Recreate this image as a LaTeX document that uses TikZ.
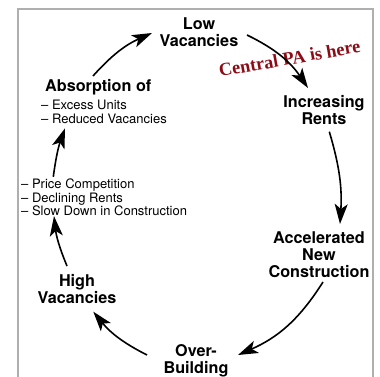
\documentclass[tikz,border=0pt]{standalone}
\usepackage{fontspec}
\setmainfont{TeX Gyre Heros}
\newfontfamily\redfont{Liberation Serif}
\usetikzlibrary{arrows.meta}
\definecolor{darkred}{RGB}{140,12,22}
\definecolor{framegray}{RGB}{175,175,175}
\begin{document}
\begin{tikzpicture}[x=1pt,y=-1pt,
  big/.style={font=\fontsize{16.2}{16.8}\selectfont\bfseries, align=center, inner sep=0pt},
  small/.style={font=\fontsize{13}{13.5}\selectfont, align=left, inner sep=0pt},
  cyc/.style={line width=1.6pt, -{Stealth[length=20pt,width=13pt,inset=5pt]}},
]
\useasboundingbox (0,0) rectangle (380,377);
\draw[framegray, line width=1.2pt] (18,377) -- (18,9) -- (373,9) -- (373,377);

\node[big] (lowv) at (199,31.9) {Low\\Vacancies};
\node[big] (incr) at (324,110) {Increasing\\Rents};
\node[big] (accel) at (319,254.9) {Accelerated\\New\\Construction};
\node[big] (over) at (196,360.6) {Over-\\Building};
\node[big] (high) at (77,288.7) {High\\Vacancies};
\node[big, anchor=base west] (absorb) at (45,92) {Absorption of};
\node[small, anchor=north west] (absorbl) at (41,100.3) {– Excess Units\\– Reduced Vacancies};
\node[small, anchor=north west] (leftl) at (21,178.6) {– Price Competition\\– Declining Rents\\– Slow Down in Construction};

\node[font=\redfont\fontsize{18.3}{18.3}\selectfont\bfseries, text=darkred, inner sep=0pt,
      anchor=base west, rotate=10] (central) at (220,77) {Central PA is here};

\draw[cyc] ([shift={(48,-16)}]absorb.base west) to[bend left=12] ([shift={(-47,1.1)}]lowv.center);
\draw[cyc] ([shift={(48,3.1)}]lowv.center) to[bend left=15] ([shift={(-16,-22)}]incr.center);
\draw[cyc] ([shift={(5.3,21.7)}]incr.center) to[bend left=10] ([shift={(21,-30.9)}]accel.center);
\draw[cyc] ([shift={(4,27.1)}]accel.center) to[bend left=17] ([shift={(42,-5.6)}]over.center);
\draw[cyc] ([shift={(-49,-5.6)}]over.center) to[bend left=12] ([shift={(16.3,23)}]high.center);
\draw[cyc] ([shift={(-10,-22.7)}]high.center) to[bend left=8] ([shift={(33,37.5)}]leftl.north west);
\draw[cyc] ([shift={(32.3,-1.8)}]leftl.north west) to[bend left=6] ([shift={(24,28)}]absorbl.north west);
\end{tikzpicture}
\end{document}
